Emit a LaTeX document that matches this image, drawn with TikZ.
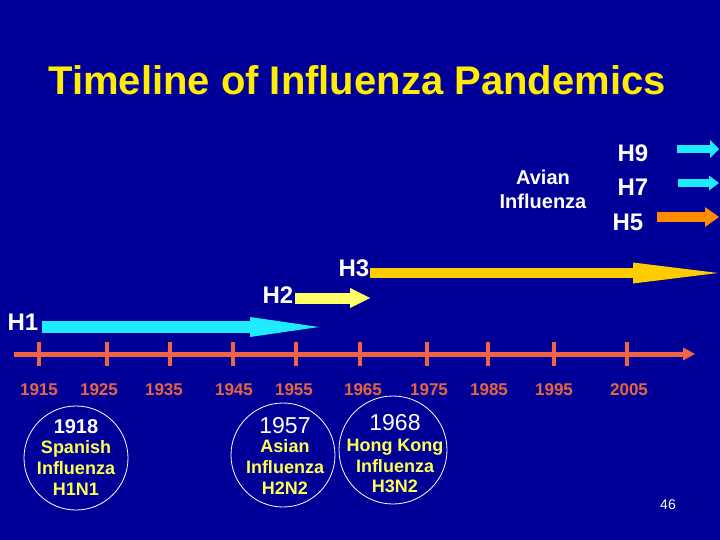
\documentclass[tikz,border=0pt]{standalone}
\usepackage{fontspec}
\setmainfont{Liberation Sans}
\usetikzlibrary{arrows.meta}
\definecolor{bg}{RGB}{0,0,153}
\definecolor{ttl}{RGB}{255,236,0}
\definecolor{axc}{RGB}{240,100,70}
\definecolor{yrc}{RGB}{232,100,60}
\definecolor{cyn}{RGB}{30,235,255}
\definecolor{yel}{RGB}{255,255,102}
\definecolor{gld}{RGB}{255,204,0}
\definecolor{org}{RGB}{255,140,0}
\definecolor{cyel}{RGB}{255,255,80}
\begin{document}
\begin{tikzpicture}[x=1pt,y=-1pt,
  lbl/.style={text=white,font=\fontsize{24}{24}\selectfont\bfseries,inner sep=0pt,anchor=base},
  avl/.style={text=white,font=\fontsize{20}{20}\selectfont\bfseries,inner sep=0pt,anchor=base},
  yr/.style={text=yrc,font=\fontsize{17}{17}\selectfont\bfseries,inner sep=0pt,anchor=base},
  cyear/.style={text=white,font=\fontsize{23}{23}\selectfont,inner sep=0pt,anchor=base},
  ctxt/.style={text=cyel,font=\fontsize{18}{18}\selectfont\bfseries,inner sep=0pt,anchor=base},
  ring/.style={circle,draw=white,line width=0.8pt,inner sep=0pt},
  tick/.style={draw=axc,line width=4pt},
  axisline/.style={draw=axc,line width=5pt,-{Triangle[length=12pt,width=13pt,line width=0pt]}},
]
\fill[bg] (0,0) rectangle (720,540);
\useasboundingbox (0,0) rectangle (720,540);

% title
\node[text=ttl,font=\fontsize{40}{40}\selectfont\bfseries,inner sep=0pt,anchor=base] (title) at (357,95) {Timeline of Influenza Pandemics};

% axis
\coordinate (axs) at (14,354);
\coordinate (axe) at (695,354);
\draw[axisline] (axs) -- (axe);
\foreach \x [count=\i] in {39,107,170,233,296,360,427,488,554,627}{
  \coordinate (ta\i) at (\x,342);
  \coordinate (tb\i) at (\x,366);
  \draw[tick] (ta\i) -- (tb\i);
}
% year labels
\node[yr] (y1915) at (39,395) {1915};
\node[yr] (y1925) at (99,395) {1925};
\node[yr] (y1935) at (164,395) {1935};
\node[yr] (y1945) at (234,395) {1945};
\node[yr] (y1955) at (294,395) {1955};
\node[yr] (y1965) at (363,395) {1965};
\node[yr] (y1975) at (429,395) {1975};
\node[yr] (y1985) at (489,395) {1985};
\node[yr] (y1995) at (554,395) {1995};
\node[yr] (y2005) at (629,395) {2005};

% subtype arrows
\coordinate (h1s) at (42,327);  \coordinate (h1e) at (319,327);
\coordinate (h2s) at (295,298); \coordinate (h2e) at (370,298);
\coordinate (h3s) at (370,273); \coordinate (h3e) at (718,273);
\coordinate (h9s) at (677,149); \coordinate (h9e) at (719,149);
\coordinate (h7s) at (678,183); \coordinate (h7e) at (719,183);
\coordinate (h5s) at (657,217); \coordinate (h5e) at (719,217);
\draw[draw=cyn,line width=12pt,-{Triangle[length=69pt,width=20pt,line width=0pt]}] (h1s) -- (h1e);
\draw[draw=yel,line width=11pt,-{Triangle[length=20pt,width=20pt,line width=0pt]}] (h2s) -- (h2e);
\draw[draw=gld,line width=10pt,-{Triangle[length=85pt,width=21pt,line width=0pt]}] (h3s) -- (h3e);
\draw[draw=cyn,line width=8pt,-{Triangle[length=9pt,width=18pt,line width=0pt]}] (h9s) -- (h9e);
\draw[draw=cyn,line width=8pt,-{Triangle[length=10pt,width=15pt,line width=0pt]}] (h7s) -- (h7e);
\draw[draw=org,line width=10pt,-{Triangle[length=14pt,width=20pt,line width=0pt]}] (h5s) -- (h5e);

\node[lbl] (lh1) at (23,330) {H1};
\node[lbl] (lh2) at (278,303) {H2};
\node[lbl] (lh3) at (354,276) {H3};
\node[lbl] (lh9) at (633,162) {H9};
\node[lbl] (lh7) at (633,196) {H7};
\node[lbl] (lh5) at (628,230) {H5};
\node[avl] (av1) at (543,185) {Avian};
\node[avl] (av2) at (543,208) {Influenza};

% pandemic circles
\node[ring,minimum size=104pt] (c1) at (76,458) {};
\node[ring,minimum size=104pt] (c2) at (283,455) {};
\node[ring,minimum size=108pt] (c3) at (393,450) {};

\node[cyear,font=\fontsize{20}{20}\selectfont\bfseries] (c1a) at (76,433) {1918};
\node[ctxt] (c1b) at (76,453) {Spanish};
\node[ctxt] (c1c) at (76,474) {Influenza};
\node[ctxt] (c1d) at (76,495) {H1N1};

\node[cyear] (c2a) at (285,433) {1957};
\node[ctxt] (c2b) at (285,452) {Asian};
\node[ctxt] (c2c) at (285,473) {Influenza};
\node[ctxt] (c2d) at (285,494) {H2N2};

\node[cyear] (c3a) at (395,430) {1968};
\node[ctxt] (c3b) at (395,451) {Hong Kong};
\node[ctxt] (c3c) at (395,472) {Influenza};
\node[ctxt] (c3d) at (395,492) {H3N2};

% page number
\node[text=white,font=\fontsize{14}{14}\selectfont,inner sep=0pt,anchor=base] (pg) at (668,509) {46};
\end{tikzpicture}
\end{document}
